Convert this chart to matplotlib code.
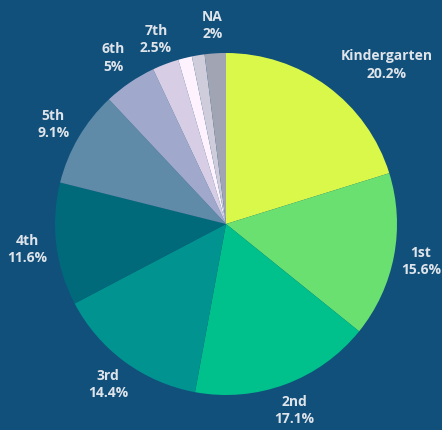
import matplotlib.pyplot as plt

grades = ["Kindergarten", "1st", "2nd", "3rd", "4th", "5th", "6th", "7th", "8th", "Other", "NA"]
shares = [20.2, 15.6, 17.1, 14.4, 11.6, 9.1, 5.0, 2.5, 1.3, 1.2, 2.0]
shown = ["Kindergarten", "1st", "2nd", "3rd", "4th", "5th", "6th", "7th", "NA"]
colors = ["#d9f84a", "#69e06f", "#00c08b", "#00938f", "#006a7a", "#5f8aa8",
          "#a0a9cc", "#d7cee6", "#fdf2fd", "#cfcddc", "#a1a5b3"]

# label block centres, in pie radius units
label_pos = {
    "Kindergarten": (0.94, 0.93), "1st": (1.14, -0.22), "2nd": (0.40, -1.09),
    "3rd": (-0.69, -0.94), "4th": (-1.16, -0.15), "5th": (-1.01, 0.58),
    "6th": (-0.66, 0.97), "7th": (-0.41, 1.08), "NA": (-0.08, 1.16),
}

bg = "#11507a"
fig = plt.figure(figsize=(4.42, 4.30), dpi=100, facecolor=bg)
ax = fig.add_axes([0, 0, 1, 1])
ax.set_facecolor(bg)

ax.pie(shares, colors=colors, startangle=90, counterclock=False,
       wedgeprops=dict(linewidth=0))

for g, v in zip(grades, shares):
    if g not in shown:
        continue
    x, y = label_pos[g]
    txt = f"{g}\n{v:g}%"
    ax.text(x, y, txt, ha="center", va="center", color="#dfe4ea",
            fontsize=10, fontweight="bold", family="Open Sans", linespacing=1.3)

r = 171
ax.set_xlim(-226 / r, (442 - 226) / r)
ax.set_ylim(-(430 - 224) / r, 224 / r)
ax.set_aspect("auto")
ax.axis("off")

fig.savefig("out.png", dpi=100, facecolor=bg)
